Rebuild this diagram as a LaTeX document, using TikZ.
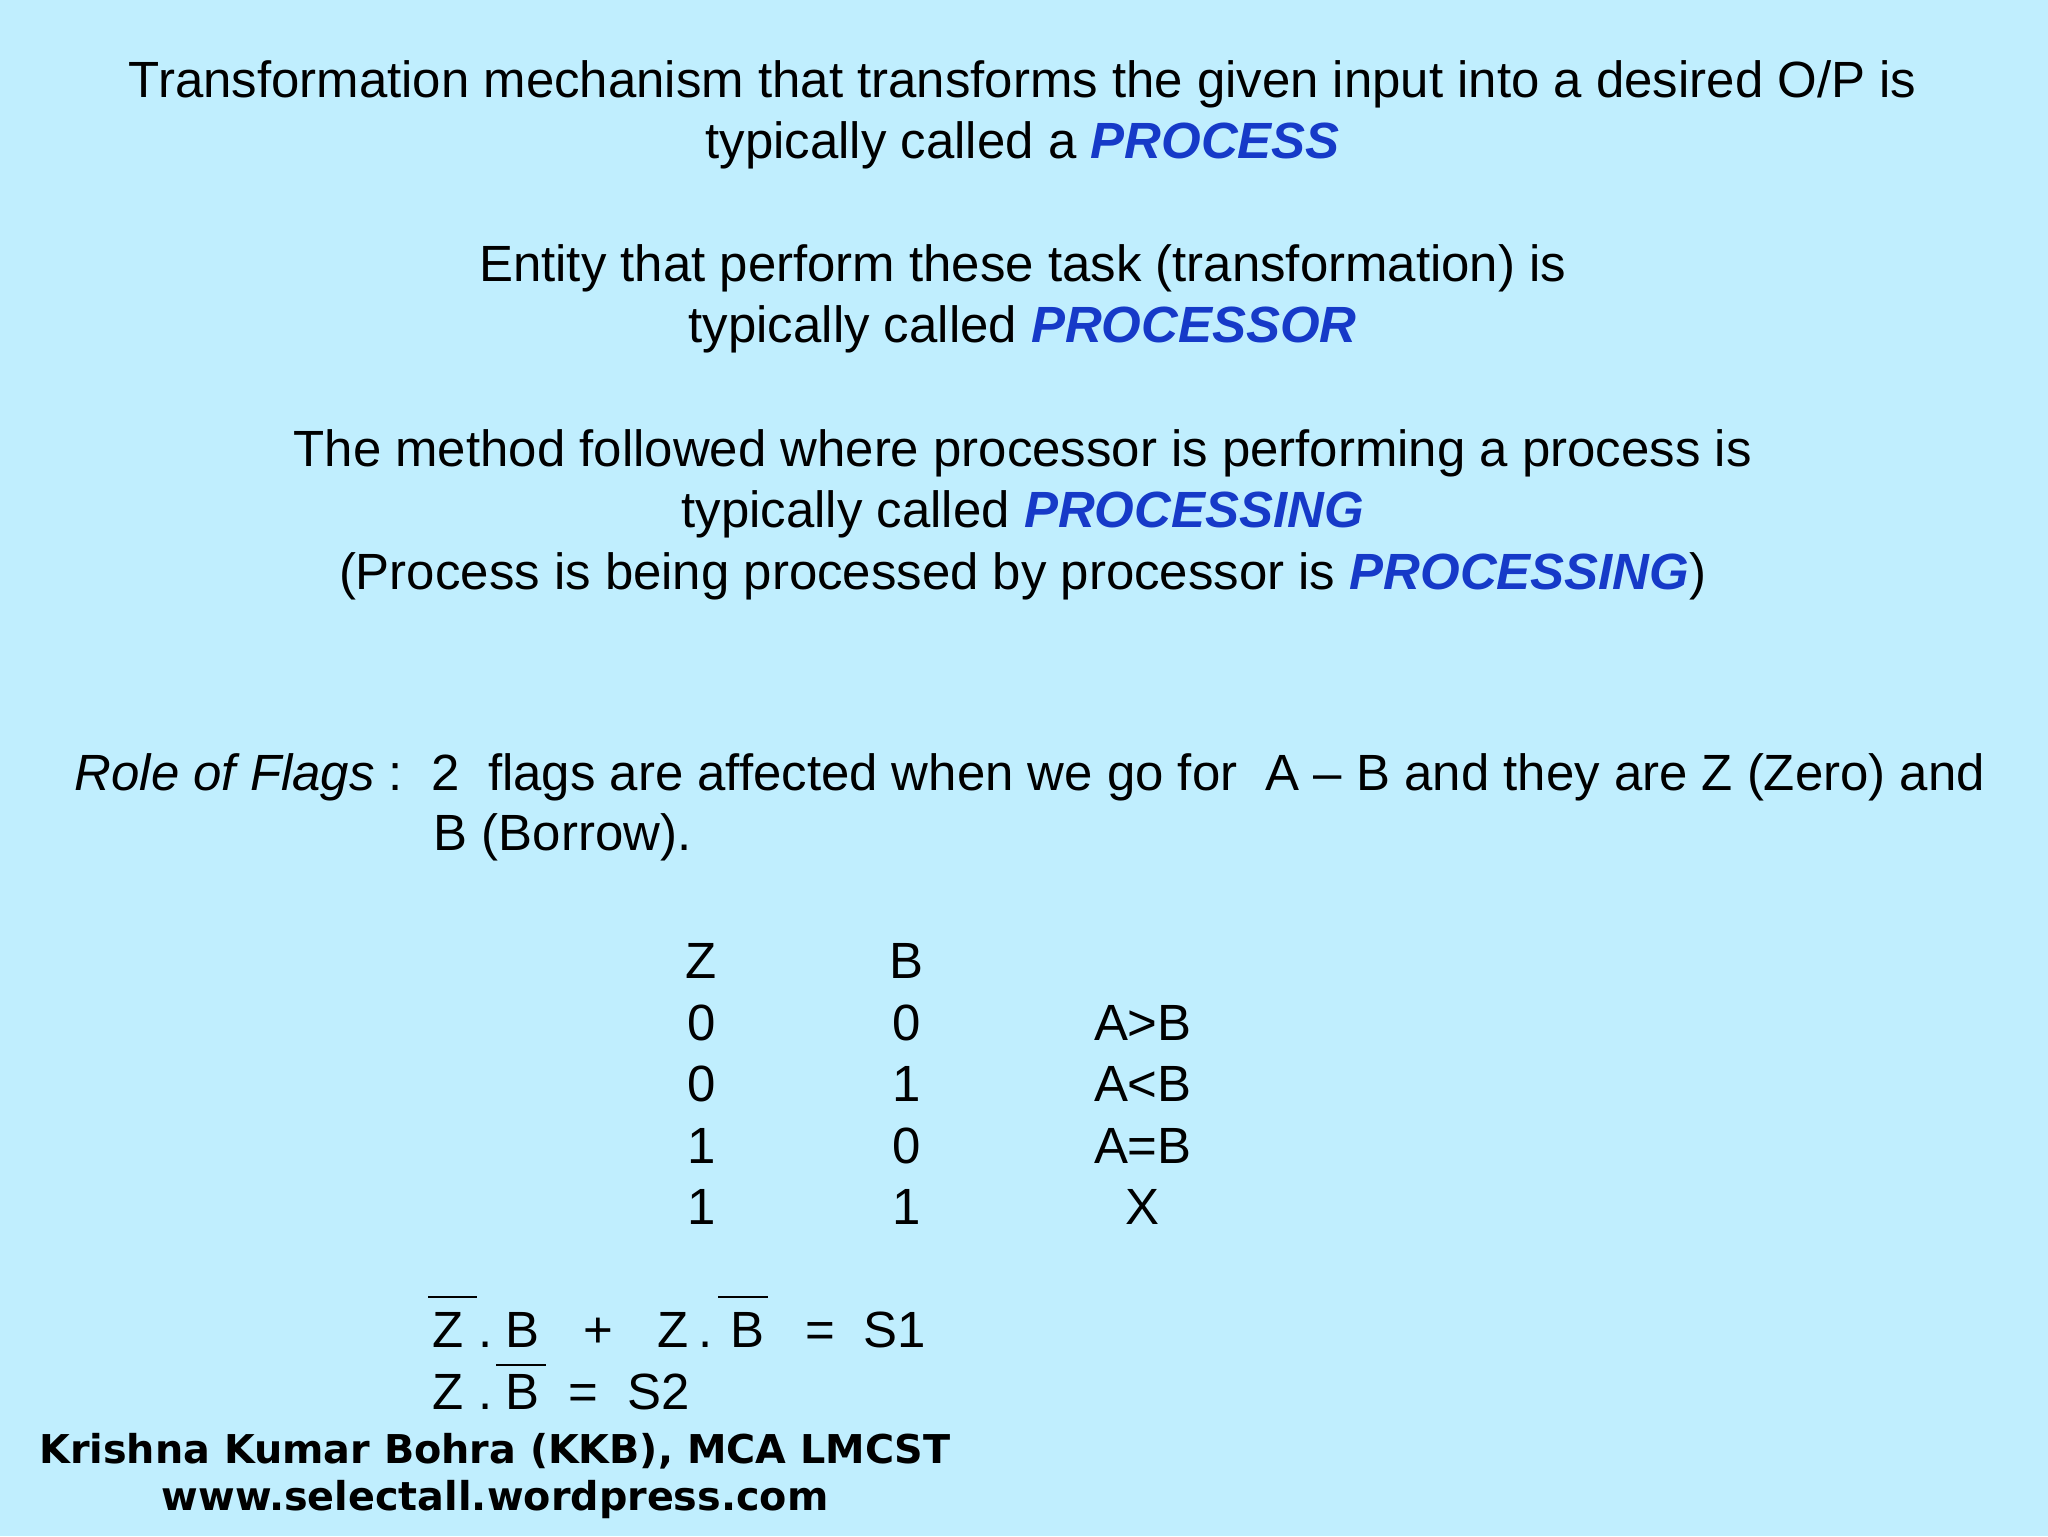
\documentclass[tikz,border=0pt]{standalone}
\usepackage{fontspec}
\setmainfont{Liberation Sans}
\newfontfamily\footfont{DejaVu Sans}
\definecolor{bgc}{RGB}{192,238,254}
\definecolor{kw}{RGB}{22,58,200}
\newcommand{\kwd}[1]{\textcolor{kw}{\textbf{\textit{#1}}}}
\begin{document}
\begin{tikzpicture}[x=1pt,y=-1pt,
  txt/.style={font=\fontsize{39}{47}\selectfont,inner sep=0pt,align=center},
  ltxt/.style={txt,anchor=west},
  ftxt/.style={txt,anchor=base},
  foot/.style={font=\footfont\bfseries\fontsize{30.4}{36}\selectfont,inner sep=0pt,align=center}]
\fill[bgc] (0,0) rectangle (1568,1176);
\useasboundingbox (0,0) rectangle (1568,1176);
\node[txt] (p1) at (783,88) {Transformation mechanism that transforms the given input into a desired O/P is\\typically called a \kwd{PROCESS}};
\node[txt] (p2) at (783,229) {Entity that perform these task (transformation) is\\typically called \kwd{PROCESSOR}};
\node[txt] (p3) at (783,394) {The method followed where processor is performing a process is\\typically called \kwd{PROCESSING}\\(Process is being processed by processor is \kwd{PROCESSING})};
\node[ltxt] (r1) at (57,595) {\textit{Role of Flags} :\ \ 2\ \ flags are affected when we go for\ \ A -- B and they are Z (Zero) and};
\node[ltxt] (r2) at (332,641) {B (Borrow).};
\foreach \y/\z/\b/\r [count=\i] in {736/Z/B/{},783/0/0/A>B,830/0/1/A<B,877/1/0/A=B,924/1/1/X}{
  \node[txt] (z\i) at (537,\y) {\z};
  \node[txt] (b\i) at (694,\y) {\b};
  \node[txt] (res\i) at (875,\y) {\r};
}
\node[ftxt] (fz1) at (343,1032) {Z};
\node[ftxt] (fd1) at (372,1032) {.};
\node[ftxt] (fb1) at (400,1032) {B};
\node[ftxt] (fp) at (458,1032) {+};
\node[ftxt] (fz2) at (515,1032) {Z};
\node[ftxt] (fd2) at (540,1032) {.};
\node[ftxt] (fb2) at (572,1032) {B};
\node[ftxt] (fe1) at (628,1032) {=};
\node[ftxt] (fs1) at (685,1032) {S1};
\node[ftxt] (gz) at (343,1079) {Z};
\node[ftxt] (gd) at (372,1079) {.};
\node[ftxt] (gb) at (400,1079) {B};
\node[ftxt] (ge) at (447,1079) {=};
\node[ftxt] (gs) at (504,1079) {S2};
\draw[line width=1.6pt] (328,993) -- (365,993);
\draw[line width=1.6pt] (550,993) -- (588,993);
\draw[line width=1.6pt] (380,1045) -- (418,1045);
\node[foot] (f) at (379,1130) {Krishna Kumar Bohra (KKB), MCA LMCST\\www.selectall.wordpress.com};
\end{tikzpicture}
\end{document}
